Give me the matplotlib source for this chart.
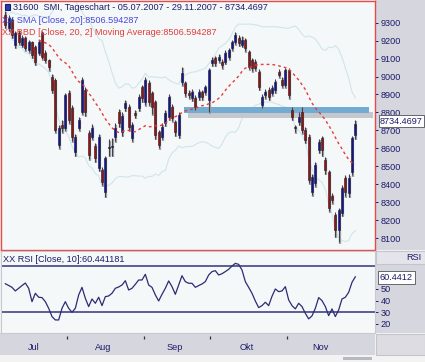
import numpy as np
import pandas as pd
import matplotlib
matplotlib.use("Agg")
import matplotlib.pyplot as plt
from matplotlib.patches import Rectangle

# ---------------- data ----------------
dates = pd.bdate_range("2007-07-05", "2007-11-29")

opens = [9343, 9270, 9315, 9176, 9242, 9176, 9215, 9148, 9192, 9164,
         9131, 9242, 9131, 9092, 8998, 8981, 8619, 8730, 8714, 8909,
         8825, 8580, 8714, 8803, 8925, 8686, 8664, 8614, 8491, 8480,
         8358, 8602, 8608, 8664, 8803, 8691, 8825, 8831, 8658, 8797,
         8825, 8942, 8858, 8964, 8909, 8858, 8691, 8664, 8742, 8775,
         8831, 8747, 8675, 8970, 8964, 8909, 8881, 8881, 8886, 8914,
         8914, 8870, 9075, 9103, 9092, 9081, 9081, 9109, 9159, 9192,
         9215, 9176, 9203, 9137, 9092, 9081, 9025, 8842, 8897, 8925,
         8909, 8925, 9025, 8981, 8953, 9036, 8814, 8714, 8747, 8803,
         8703, 8664, 8358, 8408, 8591, 8658, 8536, 8469, 8335, 8230,
         8146, 8241, 8435, 8352, 8469, 8675]
closes = [9287, 9326, 9231, 9242, 9192, 9215, 9159, 9192, 9120, 9081,
          9192, 9109, 9092, 9053, 8925, 8703, 8714, 8714, 8897, 8758,
          8664, 8664, 8758, 8981, 8803, 8563, 8714, 8547, 8664, 8413,
          8547, 8608, 8614, 8714, 8742, 8781, 8853, 8719, 8730, 8786,
          8886, 8881, 8981, 8858, 8831, 8675, 8619, 8719, 8797, 8886,
          8769, 8691, 8786, 9020, 8909, 8897, 8914, 8831, 8914, 8886,
          8942, 9036, 9092, 9075, 9109, 9064, 9131, 9148, 9192, 9231,
          9187, 9203, 9159, 9053, 9048, 9048, 8942, 8886, 8914, 8886,
          8936, 8970, 9009, 8953, 9036, 8897, 8775, 8710, 8775, 8703,
          8647, 8424, 8441, 8508, 8636, 8591, 8480, 8269, 8315, 8146,
          8257, 8380, 8358, 8435, 8658, 8734.47]
highs = [9365, 9340, 9330, 9255, 9260, 9230, 9225, 9205, 9200, 9175,
         9205, 9255, 9145, 9100, 9015, 8990, 8730, 8760, 8910, 8925,
         8840, 8680, 8775, 8995, 8940, 8700, 8735, 8630, 8680, 8495,
         8560, 8650, 8660, 8740, 8820, 8800, 8870, 8845, 8745, 8815,
         8900, 8955, 8995, 8980, 8920, 8870, 8705, 8740, 8815, 8900,
         8845, 8760, 8800, 9055, 8975, 8925, 8930, 8895, 8930, 8925,
         8955, 9050, 9110, 9115, 9125, 9095, 9145, 9160, 9205, 9250,
         9230, 9225, 9215, 9150, 9105, 9095, 9040, 8900, 8930, 8940,
         8950, 8985, 9040, 9000, 9050, 9045, 8830, 8730, 8800, 8830,
         8720, 8680, 8460, 8525, 8655, 8670, 8555, 8480, 8350, 8245,
         8270, 8395, 8450, 8455, 8670, 8760]
lows = [9270, 9255, 9215, 9160, 9180, 9165, 9145, 9135, 9105, 9065,
        9120, 9095, 9080, 9035, 8910, 8690, 8600, 8690, 8700, 8740,
        8640, 8560, 8700, 8790, 8780, 8540, 8650, 8525, 8475, 8395,
        8330, 8560, 8560, 8640, 8720, 8670, 8810, 8700, 8640, 8770,
        8810, 8860, 8840, 8840, 8790, 8655, 8600, 8650, 8725, 8760,
        8750, 8670, 8660, 8950, 8890, 8880, 8865, 8815, 8870, 8870,
        8900, 8800, 9060, 9060, 9080, 9045, 9070, 9095, 9145, 9180,
        9170, 9165, 9140, 9040, 9030, 9035, 8925, 8825, 8880, 8870,
        8895, 8910, 8995, 8940, 8940, 8880, 8760, 8690, 8730, 8685,
        8630, 8405, 8340, 8390, 8575, 8560, 8460, 8250, 8295, 8110,
        8079, 8225, 8335, 8330, 8450, 8655]
rsi = [54.5, 53.0, 51.4, 48.3, 50.6, 52.9, 55.1, 50.6, 39.1, 46.3,
       42.9, 42.6, 39.1, 33.4, 26.3, 23.4, 23.4, 33.4, 39.1, 33.4,
       30.0, 33.4, 44.9, 51.4, 42.0, 34.9, 41.4, 37.7, 42.9, 35.7,
       43.4, 44.0, 46.3, 50.6, 51.7, 53.4, 57.1, 49.1, 50.6, 54.0,
       57.7, 57.7, 62.6, 53.4, 51.4, 44.9, 39.7, 45.4, 50.6, 56.9,
       52.0, 45.4, 53.4, 61.4, 56.3, 54.9, 54.9, 51.4, 52.9, 54.3,
       56.3, 62.0, 64.9, 65.7, 62.0, 63.1, 64.9, 66.9, 69.7, 72.0,
       71.1, 66.3, 56.3, 51.4, 46.3, 39.7, 34.0, 35.7, 38.6, 35.7,
       43.7, 50.0, 47.7, 48.3, 52.0, 40.6, 35.7, 32.9, 37.7, 34.9,
       29.1, 24.3, 26.9, 33.4, 42.6, 40.0, 34.9, 27.1, 32.9, 26.3,
       32.0, 41.4, 42.9, 47.1, 55.7, 60.44]

price_ticks = [8100, 8200, 8300, 8400, 8500, 8600, 8700, 8800, 8900, 9000, 9100, 9200, 9300]
rsi_ticks = [20, 30, 40, 50]
rsi_levels = [30, 70]
month_names = {7: "Jul", 8: "Aug", 9: "Sep", 10: "Okt", 11: "Nov"}
zone_price = (8796, 8832)
zone_span = (53.6, 109.1)

title_text = "31600  SMI, Tageschart - 05.07.2007 - 29.11.2007 - 8734.4697"
sma_text = "XX SMA [Close, 20]:8506.594287"
bbd_text = "XX BBD [Close, 20, 2] Moving Average:8506.594287"
rsi_text = "XX RSI [Close, 10]:60.441181"
last_price_label = "8734.4697"
last_rsi_label = "60.4412"

# ---------------- style ----------------
W, H = 425, 362
NAVY = "#1c1c6a"
GRAY = "#d6d6de"
BG = "#f5f8f8"
UP = "#12129a"
DOWN = "#9a1010"
plt.rcParams["font.family"] = ["Liberation Sans", "DejaVu Sans"]
FS = 6.6

fig = plt.figure(figsize=(W / 100, H / 100), dpi=100, facecolor="#f3f3f3")


def rect(x0, y0, x1, y1):
    return [x0 / W, 1 - y1 / H, (x1 - x0) / W, (y1 - y0) / H]


def bgpatch(x0, y0, x1, y1, color, z=-5, ec="none"):
    r = rect(x0, y0, x1, y1)
    fig.patches.append(Rectangle((r[0], r[1]), r[2], r[3], transform=fig.transFigure,
                                 facecolor=color, edgecolor=ec, lw=0.8, zorder=z))


bgpatch(375, 0, 425, 250, GRAY)
bgpatch(376, 251, 425, 333, GRAY)
bgpatch(376, 251, 425, 264, "#e4e4ea", ec="#c4c4cc")
bgpatch(0, 333, 375, 355, GRAY)
bgpatch(376, 334, 425, 355, "#dcdce2", ec="#c4c4cc")
bgpatch(343, 357, 372, 359.5, "#b8b8c0")

XL = (-1.3, 110.9)
x = np.arange(len(closes))
o = np.array(opens, float)
c = np.array(closes, float)
hi = np.array(highs, float)
lo = np.array(lows, float)

# ---------------- main price panel ----------------
ax = fig.add_axes(rect(1, 1, 375, 250))
ax.set_facecolor(BG)
ax.set_xlim(*XL)
ax.set_ylim(8035, 9420)
for s in ax.spines.values():
    s.set_color("#e84a4a")
    s.set_linewidth(1.0)

cs = pd.Series(c)
sma = cs.rolling(20, min_periods=1).mean()
sd = cs.rolling(20, min_periods=2).std(ddof=0)
ax.plot(x, sma + 2 * sd, color="#cfe5eb", lw=0.8, zorder=1)
ax.plot(x, sma - 2 * sd, color="#cfe5eb", lw=0.8, zorder=1)

# zone with shadow
ax.fill_between([zone_span[0] + 1.2, zone_span[1] + 1.2],
                zone_price[0] - 28, zone_price[1] - 28, color="#c4c8cc", zorder=2, lw=0)
ax.fill_between(list(zone_span), zone_price[0], zone_price[1], color="#72acd2", zorder=2.1, lw=0)

# candles
ax.vlines(x + 0.25, lo - 8, hi - 8, color="#a0a0a8", lw=1.6, zorder=3)
ax.vlines(x, lo, hi, color="#404048", lw=0.8, zorder=3.5)
cols = [UP if cc >= oo else DOWN for oo, cc in zip(o, c)]
bodies = np.where(np.abs(c - o) < 6, 6, c - o)
ax.bar(x, bodies, bottom=o, width=0.62, color=cols, edgecolor="#202028", lw=0.4, zorder=4)

ax.plot(x[10:], sma[10:], color="#e83a3a", lw=1.0, ls=(0, (2, 2.2)), zorder=5)

ax.yaxis.tick_right()
ax.set_yticks(price_ticks)
ax.set_yticklabels([str(t) for t in price_ticks])
ax.tick_params(axis="y", colors=NAVY, labelsize=FS, length=2.5, width=0.7, pad=1.5,
               labelcolor=NAVY, direction="out")
ax.set_xticks([])

fig.text(13 / W, 1 - 7.5 / H, title_text, color=NAVY, fontsize=FS, va="center", ha="left")
bgpatch(5, 4, 10, 10, "#2a3ab0", z=5, ec=NAVY)
fig.text(2 / W, 1 - 20.5 / H, sma_text, color="#4646dc", fontsize=FS, va="center", ha="left")
fig.text(2 / W, 1 - 32.5 / H, bbd_text, color="#e23c3c", fontsize=FS, va="center", ha="left")

fig.text(380 / W, 1 - 121 / H, last_price_label, color=NAVY, fontsize=FS, va="center", ha="left",
         bbox=dict(boxstyle="square,pad=0.12", fc="white", ec="#505058", lw=0.6), zorder=10)

# ---------------- RSI panel ----------------
ax2 = fig.add_axes(rect(1, 251, 375, 333))
ax2.set_facecolor(BG)
ax2.set_xlim(*XL)
ax2.set_ylim(12.2, 82.6)
for s in ax2.spines.values():
    s.set_color("#c8c8d0")
    s.set_linewidth(0.8)
for lv in rsi_levels:
    ax2.axhline(lv, color="#34347e", lw=1.1, zorder=2)
ax2.plot(x, rsi, color="#2c2c74", lw=0.9, zorder=3)
ax2.yaxis.tick_right()
ax2.set_yticks(rsi_ticks)
ax2.set_yticklabels([str(t) for t in rsi_ticks])
ax2.tick_params(axis="y", colors=NAVY, labelsize=FS, length=2.5, width=0.7, pad=1.5,
                labelcolor=NAVY)
ax2.set_xticks([])
fig.text(3 / W, 1 - 259 / H, rsi_text, color=NAVY, fontsize=FS, va="center", ha="left")
fig.text(421 / W, 1 - 258 / H, "RSI", color=NAVY, fontsize=FS, va="center", ha="right", zorder=10)
fig.text(380 / W, 1 - 277.5 / H, last_rsi_label, color=NAVY, fontsize=FS, va="center", ha="left",
         bbox=dict(boxstyle="square,pad=0.18", fc="white", ec="#505058", lw=0.6), zorder=10)

# ---------------- date axis ----------------
ax3 = fig.add_axes(rect(1, 333, 375, 355))
ax3.set_xlim(*XL)
ax3.set_ylim(0, 1)
ax3.axis("off")
months = dates.month
bounds = [i - 0.5 for i in range(1, len(dates)) if months[i] != months[i - 1]]
ax3.vlines(bounds, 0.73, 0.87, color="#303040", lw=0.9)
for m, name in month_names.items():
    idx = np.where(months == m)[0]
    ax3.text(idx.mean() - 0.6, 0.36, name, color=NAVY, fontsize=FS, ha="center", va="center")

fig.savefig("out.png", dpi=100, facecolor=fig.get_facecolor())
